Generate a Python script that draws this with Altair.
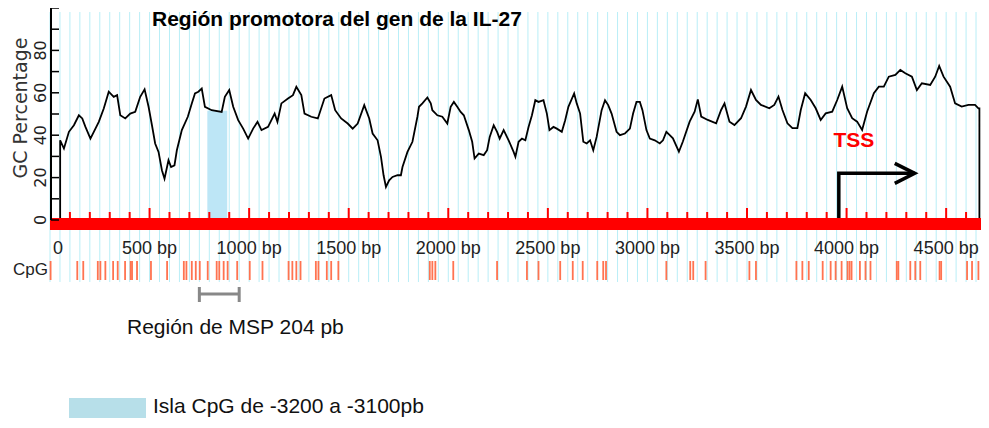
import altair as alt
import pandas as pd

# ---------------- data ----------------
gc_bp = [
    0, 51, 51, 70, 95, 120, 145, 162, 178, 203, 220, 245, 270, 295, 320, 337, 353, 378, 403, 428,
    453, 475, 495, 512, 528, 545, 562, 575, 595, 608, 625, 637, 662, 692, 712, 728, 745, 762, 778, 812,
    862, 878, 900, 920, 945, 970, 995, 1020, 1042, 1062, 1095, 1128, 1142, 1162, 1195, 1220, 1237, 1262, 1278, 1312,
    1345, 1378, 1412, 1432, 1462, 1495, 1520, 1545, 1578, 1603, 1620, 1645, 1662, 1675, 1687, 1703, 1720, 1745, 1762, 1770,
    1795, 1820, 1845, 1853, 1870, 1895, 1912, 1920, 1945, 1970, 1995, 2012, 2028, 2045, 2062, 2078, 2103, 2120, 2132, 2153,
    2178, 2195, 2208, 2228, 2245, 2258, 2278, 2303, 2328, 2337, 2353, 2370, 2387, 2403, 2420, 2437, 2453, 2478, 2495, 2508,
    2528, 2545, 2570, 2587, 2603, 2632, 2645, 2662, 2678, 2695, 2712, 2728, 2745, 2770, 2787, 2803, 2820, 2845, 2862, 2887,
    2912, 2928, 2945, 2962, 2975, 2995, 3012, 3037, 3062, 3078, 3095, 3112, 3128, 3158, 3178, 3212, 3237, 3253, 3270, 3303,
    3345, 3370, 3387, 3412, 3437, 3470, 3495, 3520, 3545, 3570, 3612, 3637, 3658, 3678, 3703, 3728, 3753, 3770, 3792, 3820,
    3845, 3870, 3895, 3928, 3953, 3978, 4003, 4028, 4053, 4078, 4103, 4137, 4162, 4187, 4212, 4245, 4270, 4295, 4328, 4353,
    4378, 4420, 4445, 4465, 4487, 4520, 4545, 4578, 4612, 4645, 4662, 4667, 4667,
]
gc_pct = [
    0, 0, 37.6, 33.7, 41.6, 44.7, 49.4, 47.9, 43.9, 38.4, 41.6, 46.3, 52.6, 60.5, 58.1, 58.9, 49.4, 47.9, 50.2, 51.0,
    58.1, 61.6, 53.4, 44.7, 36.1, 32.1, 23.5, 19.5, 28.2, 25.0, 25.8, 32.9, 42.4, 48.7, 55.0, 59.7, 60.5, 62.0, 53.4, 51.8,
    51.0, 58.1, 61.3, 53.4, 47.1, 43.1, 38.4, 43.1, 46.3, 42.4, 43.9, 50.2, 46.3, 55.0, 57.3, 58.9, 62.8, 58.9, 50.2, 48.7,
    47.9, 57.3, 58.9, 51.8, 47.9, 45.5, 43.1, 45.5, 54.2, 47.9, 40.8, 37.6, 29.8, 21.1, 15.6, 18.7, 20.3, 21.1, 21.1, 25.0,
    32.1, 36.9, 48.7, 53.4, 55.0, 57.8, 55.0, 51.8, 49.4, 48.7, 45.5, 53.4, 55.7, 53.4, 51.0, 49.4, 42.4, 36.9, 29.0, 31.3,
    30.6, 32.9, 39.2, 44.7, 41.6, 38.4, 42.4, 37.6, 32.1, 29.8, 36.9, 38.4, 37.6, 43.9, 49.4, 56.5, 55.7, 56.5, 50.2, 42.4,
    43.9, 43.1, 41.6, 47.1, 53.4, 59.7, 55.0, 50.2, 36.9, 36.1, 37.6, 32.9, 39.2, 51.8, 56.5, 54.2, 50.2, 41.6, 40.0, 40.8,
    43.1, 50.2, 55.7, 55.7, 51.8, 42.4, 38.4, 37.6, 36.1, 37.6, 41.6, 40.0, 38.5, 32.2, 37.0, 46.4, 51.1, 56.9, 48.8, 47.2,
    45.6, 51.9, 55.0, 46.4, 44.8, 48.0, 53.5, 61.3, 56.6, 54.3, 52.7, 54.3, 58.2, 51.9, 45.6, 43.3, 43.3, 51.9, 59.8, 56.6,
    52.7, 47.2, 50.3, 51.1, 56.6, 62.9, 52.7, 48.0, 46.4, 42.5, 51.1, 59.8, 62.9, 62.9, 67.6, 68.4, 70.8, 69.2, 67.6, 61.3,
    64.5, 63.7, 67.6, 72.7, 67.6, 62.9, 55.0, 53.5, 54.3, 54.3, 52.7, 52.7, 0,
]
assert len(gc_bp) == len(gc_pct)

cpg_bp = [3, 137, 167, 240, 253, 278, 317, 340, 377, 405, 412, 437, 507, 588, 672, 685, 712, 732,
          752, 792, 837, 850, 872, 892, 940, 1003, 1067, 1198, 1217, 1237, 1258, 1335, 1348, 1390,
          1412, 1448, 1907, 1920, 1935, 2025, 2245, 2395, 2453, 2562, 2625, 2675, 2748, 2778, 2792,
          3095, 3215, 3230, 3292, 3512, 3545, 3748, 3778, 3810, 3880, 3920, 3945, 3975, 4005, 4015,
          4025, 4067, 4095, 4120, 4252, 4260, 4320, 4345, 4370, 4467, 4475, 4605, 4630, 4662]

grid_bp = list(range(0, 4651, 50))
minor_tick_bp = [v for v in range(100, 4601, 100) if v % 500 != 0]
major_tick_bp = [500, 1000, 1500, 2000, 2500, 3000, 3500, 4000, 4500]
xlabel_bp = [500, 1000, 1500, 2000, 2500, 3000, 3500, 4000, 4500]
xlabel_text = ["500 bp", "1000 bp", "1500 bp", "2000 bp", "2500 bp", "3000 bp", "3500 bp", "4000 bp", "4500 bp"]
ytick_pct = [0, 10, 20, 30, 40, 50, 60, 70, 80, 90, 100]
ylabel_pct = [0, 20, 40, 60, 80]
ylabel_text = ["0", "20", "40", "60", "80"]

island_start, island_end, island_top = 790, 890, 51.5
msp_start, msp_end = 750, 950
tss_bp, tss_pct = 4037, 34.4
arrow_part = ["stem", "stem", "stem", "head", "head", "head"]
arrow_bp = [3961, 3961, 4342, 4242, 4342, 4242]
arrow_pct = [0, 22.0, 22.0, 26.7, 22.0, 17.3]

title_text = "Región promotora del gen de la IL-27"
msp_text = "Región de MSP 204 pb"
legend_text = "Isla CpG de -3200 a -3100pb"

# ---------------- chart ----------------
xs = alt.Scale(domain=[0, 4675], nice=False, zero=False)
ys = alt.Scale(domain=[0, 100], nice=False)


def X(f):
    return alt.X(f, type="quantitative", scale=xs, axis=None)


def Y(f):
    return alt.Y(f, type="quantitative", scale=ys, axis=None)


one = pd.DataFrame({"a": [0]})

grid = alt.Chart(pd.DataFrame({"bp": grid_bp})).mark_rule(color="#b9eef7", strokeWidth=1).encode(
    x=X("bp"), y=alt.value(4), y2=alt.value(274))

island = alt.Chart(pd.DataFrame({"s": [island_start], "e": [island_end], "top": [island_top], "bot": [0]})).mark_rect(
    color="#bde6f6").encode(x=X("s"), x2="e", y=Y("top"), y2="bot")

gc_df = pd.DataFrame({"bp": gc_bp, "pct": gc_pct, "i": list(range(len(gc_bp)))})
gc_line = alt.Chart(gc_df).mark_line(color="black", strokeWidth=1.8).encode(
    x=X("bp"), y=Y("pct"), order="i:Q")

arrow_df = pd.DataFrame({"part": arrow_part, "bp": arrow_bp, "pct": arrow_pct, "i": list(range(len(arrow_bp)))})
arrow = alt.Chart(arrow_df).mark_line(color="black", strokeWidth=3.5, strokeJoin="miter").encode(
    x=X("bp"), y=Y("pct"), detail="part:N", order="i:Q")

bar = alt.Chart(pd.DataFrame({"s": [0], "e": [4675]})).mark_rect(color="#ff0000").encode(
    x=X("s"), x2="e", y=alt.value(210), y2=alt.value(222))
minor_ticks = alt.Chart(pd.DataFrame({"bp": minor_tick_bp})).mark_rule(color="#ff0000", strokeWidth=2).encode(
    x=X("bp"), y=alt.value(204), y2=alt.value(210))
major_ticks = alt.Chart(pd.DataFrame({"bp": major_tick_bp})).mark_rule(color="#ff0000", strokeWidth=2).encode(
    x=X("bp"), y=alt.value(200), y2=alt.value(210))

y_line = alt.Chart(one).mark_rule(color="black", strokeWidth=2).encode(
    x=alt.value(1), y=alt.value(0), y2=alt.value(212))
y_ticks = alt.Chart(pd.DataFrame({"v": ytick_pct})).mark_rule(color="black", strokeWidth=1.5).encode(
    y=Y("v"), x=alt.value(1), x2=alt.value(9))
y_labels = alt.Chart(pd.DataFrame({"v": ylabel_pct, "t": ylabel_text})).mark_text(
    angle=270, align="center", baseline="bottom", font="DejaVu Sans", fontSize=16, color="#222").encode(
    y=Y("v"), x=alt.value(-1.5), text="t:N")

y_title = alt.Chart(pd.DataFrame({"t": ["GC Percentage"]})).mark_text(
    angle=270, align="center", baseline="middle", font="DejaVu Sans", fontSize=19, color="#333").encode(
    x=alt.value(-29), y=alt.value(100), text="t:N")

title = alt.Chart(pd.DataFrame({"t": [title_text]})).mark_text(
    align="left", baseline="alphabetic", font="Liberation Sans", fontSize=21, fontWeight="bold",
    color="black").encode(x=alt.value(102), y=alt.value(18), text="t:N")

tss = alt.Chart(pd.DataFrame({"bp": [tss_bp], "pct": [tss_pct], "t": ["TSS"]})).mark_text(
    align="center", baseline="alphabetic", font="Liberation Sans", fontSize=21, fontWeight="bold",
    color="#ff0000").encode(x=X("bp"), y=Y("pct"), text="t:N")

xlabels = alt.Chart(pd.DataFrame({"bp": xlabel_bp, "t": xlabel_text})).mark_text(
    align="center", baseline="middle", font="Liberation Sans", fontSize=18, color="#222").encode(
    x=X("bp"), y=alt.value(241), text="t:N")
xlabel0 = alt.Chart(pd.DataFrame({"bp": [0], "t": ["0"]})).mark_text(
    align="left", dx=3, baseline="middle", font="Liberation Sans", fontSize=18, color="#222").encode(
    x=X("bp"), y=alt.value(241), text="t:N")

cpg_label = alt.Chart(pd.DataFrame({"t": ["CpG"]})).mark_text(
    align="right", baseline="middle", font="Liberation Sans", fontSize=17, color="#222").encode(
    x=alt.value(-2), y=alt.value(262), text="t:N")
cpg = alt.Chart(pd.DataFrame({"bp": cpg_bp})).mark_rule(color="#ff7350", strokeWidth=1.8).encode(
    x=X("bp"), y=alt.value(253), y2=alt.value(272))

msp_h = alt.Chart(pd.DataFrame({"s": [msp_start], "e": [msp_end]})).mark_rule(color="#888888", strokeWidth=3).encode(
    x=X("s"), x2="e", y=alt.value(286))
msp_caps = alt.Chart(pd.DataFrame({"bp": [msp_start, msp_end]})).mark_rule(color="#888888", strokeWidth=3).encode(
    x=X("bp"), y=alt.value(279), y2=alt.value(294))
msp_label = alt.Chart(pd.DataFrame({"t": [msp_text]})).mark_text(
    align="left", baseline="middle", font="Liberation Sans", fontSize=21, color="#111").encode(
    x=alt.value(77), y=alt.value(320), text="t:N")

legend_rect = alt.Chart(one).mark_rect(color="#b7dfe9").encode(
    x=alt.value(19), x2=alt.value(96), y=alt.value(390), y2=alt.value(410))
legend_label = alt.Chart(pd.DataFrame({"t": [legend_text]})).mark_text(
    align="left", baseline="middle", font="Liberation Sans", fontSize=21, color="#111").encode(
    x=alt.value(103), y=alt.value(399), text="t:N")

chart = alt.layer(
    grid, island, gc_line, arrow, bar, minor_ticks, major_ticks, y_line, y_ticks, y_labels,
    y_title, title, tss, xlabels, xlabel0, cpg_label, cpg, msp_h, msp_caps, msp_label,
    legend_rect, legend_label,
).properties(
    width=931, height=212,
    autosize=alt.AutoSizeParams(type="none"),
    padding={"left": 42, "top": 0, "right": 0, "bottom": 200},
).configure_view(stroke=None)

chart.save("out.html", embed_options={"renderer": "svg", "actions": False})
